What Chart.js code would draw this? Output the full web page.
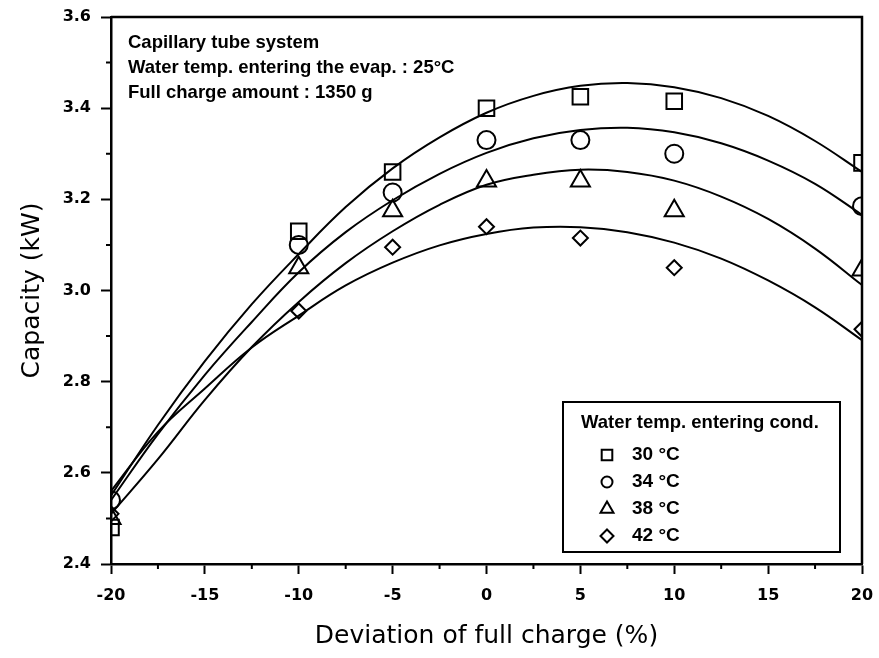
<!DOCTYPE html>
<html>
<head>
<meta charset="utf-8">
<title>Capacity vs deviation of full charge</title>
<script src="https://cdn.jsdelivr.net/npm/chart.js@4/dist/chart.umd.min.js"></script>
<style>
  html, body { margin: 0; padding: 0; background: #fff; }
  canvas { display: block; }
</style>
</head>
<body>
<canvas id="cap-chart" width="879" height="658"></canvas>
<script>
// Capacity vs deviation of full charge (capillary tube system)
(function () {
  'use strict';

  // ── Data ─────────────────────────────────────────

  // measured points
  const devX  = [-20, -10, -5, 0, 5, 10, 20];
  const cap30 = [2.48, 3.13, 3.26, 3.40, 3.425, 3.415, 3.28];
  const cap34 = [2.54, 3.10, 3.215, 3.33, 3.33, 3.30, 3.185];
  const cap38 = [2.50, 3.05, 3.175, 3.24, 3.24, 3.175, 3.045];
  const cap42 = [2.51, 2.955, 3.095, 3.14, 3.115, 3.05, 2.915];

  // fitted curves, every 2.5 %
  const fitX   = [-20, -17.5, -15, -12.5, -10, -7.5, -5, -2.5, 0, 2.5, 5, 7.5, 10, 12.5, 15, 17.5, 20];
  const fit30  = [2.55, 2.705, 2.845, 2.97, 3.08, 3.183, 3.268, 3.336, 3.39, 3.427, 3.449, 3.455, 3.446, 3.422, 3.383, 3.328, 3.26];
  const fit34  = [2.54, 2.685, 2.815, 2.931, 3.04, 3.128, 3.198, 3.256, 3.302, 3.334, 3.352, 3.357, 3.347, 3.323, 3.285, 3.234, 3.166];
  const fit38  = [2.51, 2.63, 2.76, 2.876, 2.975, 3.06, 3.13, 3.188, 3.232, 3.254, 3.265, 3.26, 3.241, 3.206, 3.157, 3.092, 3.012];
  const fit42  = [2.56, 2.69, 2.785, 2.875, 2.945, 3.011, 3.061, 3.099, 3.124, 3.138, 3.139, 3.128, 3.105, 3.07, 3.022, 2.963, 2.891];

  const seriesLabels = ['30 °C', '34 °C', '38 °C', '42 °C'];
  const markerStyles = ['rect', 'circle', 'triangle', 'rectRot'];
  const markerSizes  = [11, 9, 11, 7.5];

  const notes = [
    'Capillary tube system',
    'Water temp. entering the evap. : 25°C',
    'Full charge amount : 1350 g'
  ];
  const legendTitle = 'Water temp. entering cond.';

  // ── Helpers ──────────────────────────────────────

  const pts = (xs, ys) => xs.map((x, i) => ({ x, y: ys[i] }));

  function markerSet(ys, i) {
    return {
      data: pts(devX, ys),
      showLine: false,
      pointStyle: markerStyles[i],
      pointRadius: markerSizes[i],
      pointBorderWidth: 2,
      pointBorderColor: '#000',
      pointBackgroundColor: 'rgba(0,0,0,0)',
      clip: 0
    };
  }

  function curveSet(ys) {
    return {
      data: pts(fitX, ys),
      showLine: true,
      borderColor: '#000',
      borderWidth: 2,
      pointRadius: 0,
      tension: 0.4,
      clip: 0
    };
  }

  function drawMarker(ctx, style, x, y, r) {
    ctx.beginPath();
    if (style === 'rect') {
      const s = r * Math.SQRT1_2;
      ctx.rect(x - s, y - s, 2 * s, 2 * s);
    } else if (style === 'circle') {
      ctx.arc(x, y, r, 0, Math.PI * 2);
    } else if (style === 'triangle') {
      ctx.moveTo(x, y - r);
      ctx.lineTo(x + r * 0.866, y + r * 0.5);
      ctx.lineTo(x - r * 0.866, y + r * 0.5);
      ctx.closePath();
    } else {
      ctx.moveTo(x, y - r);
      ctx.lineTo(x + r, y);
      ctx.lineTo(x, y + r);
      ctx.lineTo(x - r, y);
      ctx.closePath();
    }
    ctx.stroke();
  }

  // frame, minor ticks, notes and boxed legend
  const decorPlugin = {
    id: 'decor',
    afterDraw(chart) {
      const { ctx, chartArea: a, scales: { x, y } } = chart;
      ctx.save();
      ctx.strokeStyle = '#000';
      ctx.fillStyle = '#000';

      // top and right edges of the frame
      ctx.lineWidth = 2.5;
      ctx.beginPath();
      ctx.moveTo(a.left, a.top);
      ctx.lineTo(a.right, a.top);
      ctx.lineTo(a.right, a.bottom);
      ctx.stroke();

      // minor ticks half way between major ones
      ctx.lineWidth = 2;
      ctx.beginPath();
      for (let i = 0; i < x.ticks.length - 1; i++) {
        const px = x.getPixelForValue((x.ticks[i].value + x.ticks[i + 1].value) / 2);
        ctx.moveTo(px, a.bottom);
        ctx.lineTo(px, a.bottom + 5);
      }
      for (let i = 0; i < y.ticks.length - 1; i++) {
        const py = y.getPixelForValue((y.ticks[i].value + y.ticks[i + 1].value) / 2);
        ctx.moveTo(a.left, py);
        ctx.lineTo(a.left - 5, py);
      }
      ctx.stroke();

      // notes, top left
      ctx.font = 'bold 18.5px "Liberation Sans", Arial, sans-serif';
      ctx.textBaseline = 'middle';
      ctx.textAlign = 'left';
      notes.forEach((t, i) => ctx.fillText(t, a.left + 17, 43 + i * 25));

      // legend box
      const lx = 563, ly = 402, lw = 277, lh = 150;
      ctx.lineWidth = 2;
      ctx.fillStyle = '#fff';
      ctx.fillRect(lx, ly, lw, lh);
      ctx.strokeRect(lx, ly, lw, lh);
      ctx.fillStyle = '#000';
      ctx.font = 'bold 18.5px "Liberation Sans", Arial, sans-serif';
      ctx.fillText(legendTitle, lx + 18, 423);
      ctx.font = 'bold 19px "Liberation Sans", Arial, sans-serif';
      const legendSizes = [7.5, 5.5, 7.5, 6.5];
      seriesLabels.forEach((t, i) => {
        const yy = 455 + i * 27;
        drawMarker(ctx, markerStyles[i], 607, yy, legendSizes[i]);
        ctx.fillText(t, 632, yy);
      });
      ctx.restore();
    }
  };

  // ── Chart ────────────────────────────────────────

  const tickFont = { family: '"DejaVu Sans", sans-serif', weight: 'bold', size: 16 };
  const titleFont = { family: '"DejaVu Sans", sans-serif', size: 25 };

  new Chart(document.getElementById('cap-chart'), {
    type: 'scatter',
    data: {
      datasets: [
        curveSet(fit30), curveSet(fit34), curveSet(fit38), curveSet(fit42),
        markerSet(cap30, 0), markerSet(cap34, 1), markerSet(cap38, 2), markerSet(cap42, 3)
      ]
    },
    options: {
      responsive: false,
      animation: false,
      layout: { padding: { top: 17, right: 17, left: 0, bottom: 0 } },
      plugins: { legend: { display: false }, tooltip: { enabled: false } },
      scales: {
        x: {
          type: 'linear', min: -20, max: 20,
          ticks: { stepSize: 5, color: '#000', font: tickFont, padding: 12 },
          grid: { drawOnChartArea: false, tickLength: 10, tickWidth: 2, tickColor: '#000' },
          border: { color: '#000', width: 2.5 },
          title: { display: true, text: 'Deviation of full charge (%)', color: '#000', font: titleFont, padding: { top: 0, bottom: 7 } },
          afterFit: s => { s.height = 94; s.paddingLeft = 0; s.paddingRight = 0; }
        },
        y: {
          min: 2.4, max: 3.6,
          ticks: { stepSize: 0.2, color: '#000', font: tickFont, padding: 10, callback: v => v.toFixed(1) },
          grid: { drawOnChartArea: false, tickLength: 10, tickWidth: 2, tickColor: '#000' },
          border: { color: '#000', width: 2.5 },
          title: { display: true, text: 'Capacity (kW)', color: '#000', font: titleFont, padding: { top: 17, bottom: 0 } },
          afterFit: s => { s.width = 111; s.paddingTop = 0; s.paddingBottom = 0; }
        }
      }
    },
    plugins: [decorPlugin]
  });
})();
</script>
</body>
</html>
